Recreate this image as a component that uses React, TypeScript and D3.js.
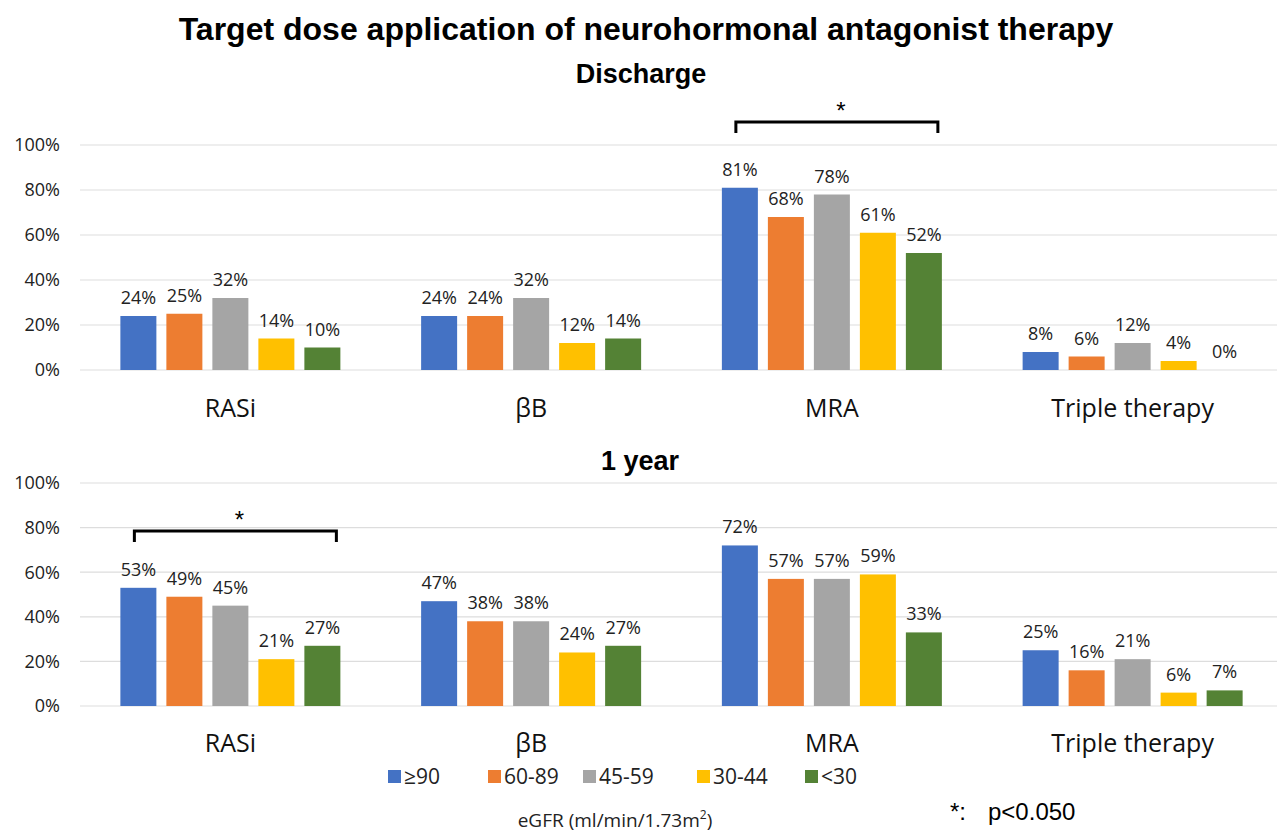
import React from "react";
import * as d3 from "d3";

const categories = ["RASi", "βB", "MRA", "Triple therapy"];
const series = ["≥90", "60-89", "45-59", "30-44", "<30"];
const colors = ["#4472C4", "#ED7D31", "#A5A5A5", "#FFC000", "#548235"];
const dischargeValues = [
  [24, 25, 32, 14, 10],
  [24, 24, 32, 12, 14],
  [81, 68, 78, 61, 52],
  [8, 6, 12, 4, 0],
];
const oneYearValues = [
  [53, 49, 45, 21, 27],
  [47, 38, 38, 24, 27],
  [72, 57, 57, 59, 33],
  [25, 16, 21, 6, 7],
];
const yTicks = [0, 20, 40, 60, 80, 100];

const W = 1277;
const H = 834;
const FONT = "'Open Sans', 'Noto Sans', sans-serif";
const TFONT = "'Liberation Sans', Arial, sans-serif";

const xGroup = d3.scaleBand<string>().domain(categories).range([80, 1283]).padding(0);
const xInner = d3.scaleBand<string>().domain(series).range([-110, 110]).paddingInner(10 / 46).paddingOuter(0);

function Panel({ values, y0, y1, catY, bracketCat }: { values: number[][]; y0: number; y1: number; catY: number; bracketCat: number }) {
  const y = d3.scaleLinear().domain([0, 100]).range([y0, y1]);
  const gc = (i: number) => (xGroup(categories[i]) as number) + xGroup.bandwidth() / 2;
  const bc = gc(bracketCat);
  const bY = bracketCat === 2 ? 122 : 531;
  return (
    <g>
      {yTicks.map((t) => (
        <g key={t}>
          <line x1={80} x2={W} y1={y(t)} y2={y(t)} stroke="#DDDDDD" strokeWidth={1.2} />
          <text x={60} y={y(t)} dy="0.35em" textAnchor="end" fontFamily={FONT} fontSize={18} fill="#222">
            {t}%
          </text>
        </g>
      ))}
      {categories.map((c, i) => (
        <g key={c}>
          {series.map((s, j) => {
            const v = values[i][j];
            const x = gc(i) + (xInner(s) as number);
            return (
              <g key={s}>
                {v > 0 && (
                  <rect x={x} y={y(v)} width={xInner.bandwidth()} height={y(0) - y(v)} fill={colors[j]} />
                )}
                <text
                  x={x + xInner.bandwidth() / 2}
                  y={y(v) - 12}
                  textAnchor="middle"
                  fontFamily={FONT}
                  fontSize={18}
                  fill="#222"
                >
                  {v}%
                </text>
              </g>
            );
          })}
          <text x={gc(i)} y={catY} dy="0.35em" textAnchor="middle" fontFamily={FONT} fontSize={25} fill="#111">
            {c}
          </text>
        </g>
      ))}
      <path
        d={`M${bc - 96},${bY + 11} V${bY} H${bc + 106} V${bY + 11}`}
        fill="none"
        stroke="#000"
        strokeWidth={3}
      />
      <text x={bc + 9} y={bY - 3} textAnchor="middle" fontFamily={TFONT} fontSize={24} fill="#000">
        *
      </text>
    </g>
  );
}

const legendX = [388, 488, 583, 697, 805];

export default function App() {
  return (
    <svg width={W} height={H} style={{ position: "absolute", left: 0, top: 0, background: "#fff" }}>
      <rect width={W} height={H} fill="#fff" />
      <text x={646} y={40} textAnchor="middle" fontFamily={TFONT} fontWeight="bold" fontSize={32} fill="#000">
        Target dose application of neurohormonal antagonist therapy
      </text>
      <text x={641} y={83} textAnchor="middle" fontFamily={TFONT} fontWeight="bold" fontSize={27} fill="#000">
        Discharge
      </text>
      <text x={640} y={470} textAnchor="middle" fontFamily={TFONT} fontWeight="bold" fontSize={27} fill="#000">
        1 year
      </text>
      <Panel values={dischargeValues} y0={370} y1={145} catY={408} bracketCat={2} />
      <Panel values={oneYearValues} y0={706} y1={483} catY={743} bracketCat={0} />
      {series.map((s, j) => (
        <g key={s}>
          <rect x={legendX[j]} y={770} width={13} height={13} fill={colors[j]} />
          <text x={legendX[j] + 16} y={777} dy="0.35em" fontFamily={FONT} fontSize={21} fill="#222">
            {s}
          </text>
        </g>
      ))}
      <text x={615} y={820} dy="0.35em" textAnchor="middle" fontFamily={FONT} fontSize={19} fill="#222">
        eGFR (ml/min/1.73m<tspan fontSize={12} dy="-8">2</tspan>
        <tspan dy="8">)</tspan>
      </text>
      <text x={950} y={820} fontFamily={TFONT} fontSize={24} fill="#000">
        *:
      </text>
      <text x={988} y={820} fontFamily={TFONT} fontSize={24} fill="#000">
        p&lt;0.050
      </text>
    </svg>
  );
}
